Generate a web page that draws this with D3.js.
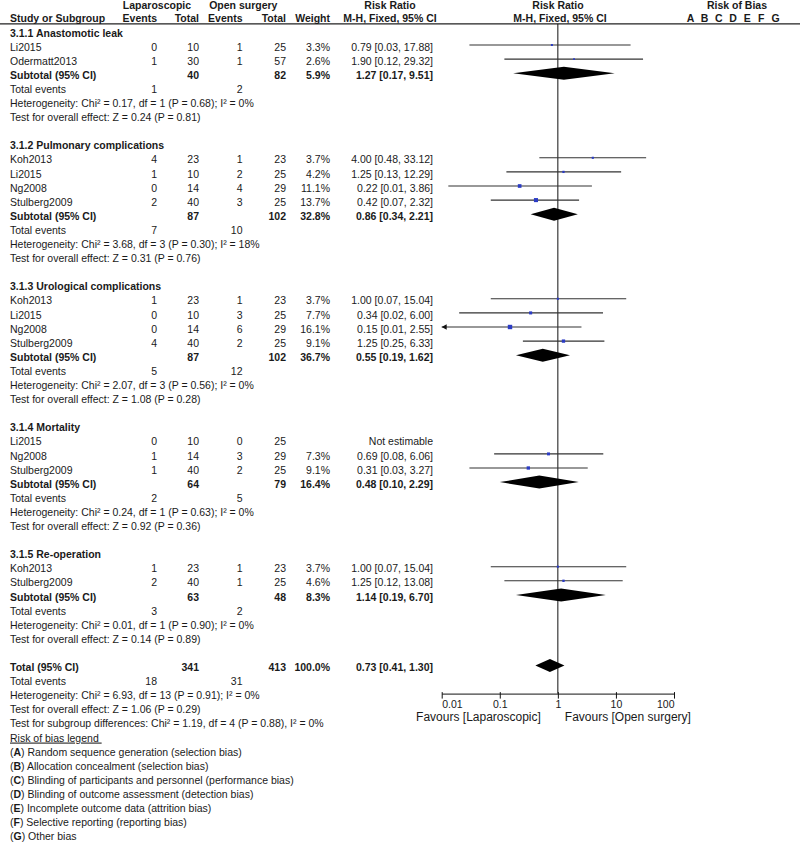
<!DOCTYPE html>
<html>
<head>
<meta charset="utf-8">
<script src="https://cdn.jsdelivr.net/npm/d3@7"></script>
<style>
    body { margin: 0; background: #fff; }
    svg { display: block; font-family: "Liberation Sans", Arial, sans-serif; font-size: 10.5px; fill: #1a1a1a; }
    .b { font-weight: bold; }
</style>
</head>
<body>
<div id="chart"></div>
<script>
const width = 800;
const height = 845;

// Subgroups
const groupNames = ['3.1.1 Anastomotic leak', '3.1.2 Pulmonary complications', '3.1.3 Urological complications', '3.1.4 Mortality', '3.1.5 Re-operation'];

// Studies (one entry per row, in drawing order)
const studyGroup = [0, 0, 1, 1, 1, 1, 2, 2, 2, 2, 3, 3, 3, 4, 4];
const studyNames = ['Li2015', 'Odermatt2013', 'Koh2013', 'Li2015', 'Ng2008', 'Stulberg2009', 'Koh2013', 'Li2015', 'Ng2008', 'Stulberg2009', 'Li2015', 'Ng2008', 'Stulberg2009', 'Koh2013', 'Stulberg2009'];
const lapEvents = [0, 1, 4, 1, 0, 2, 1, 0, 0, 4, 0, 1, 1, 1, 2];
const lapTotal = [10, 30, 23, 10, 14, 40, 23, 10, 14, 40, 10, 14, 40, 23, 40];
const openEvents = [1, 1, 1, 2, 4, 3, 1, 3, 6, 2, 0, 3, 2, 1, 1];
const openTotal = [25, 57, 23, 25, 29, 25, 23, 25, 29, 25, 25, 29, 25, 23, 25];
const studyWeight = [3.3, 2.6, 3.7, 4.2, 11.1, 13.7, 3.7, 7.7, 16.1, 9.1, null, 7.3, 9.1, 3.7, 4.6];
const studyRR = [0.79, 1.90, 4.00, 1.25, 0.22, 0.42, 1.00, 0.34, 0.15, 1.25, null, 0.69, 0.31, 1.00, 1.25];
const studyLo = [0.03, 0.12, 0.48, 0.13, 0.013, 0.07, 0.07, 0.02, 0.008, 0.25, null, 0.08, 0.03, 0.07, 0.12];
const studyHi = [17.88, 29.32, 33.12, 12.29, 3.86, 2.32, 15.04, 6.00, 2.55, 6.33, null, 6.06, 3.27, 15.04, 13.08];

// Subtotals per subgroup
const subLapTotal = [40, 87, 87, 64, 63];
const subOpenTotal = [82, 102, 102, 79, 48];
const subWeight = [5.9, 32.8, 36.7, 16.4, 8.3];
const subRR = [1.27, 0.86, 0.55, 0.48, 1.14];
const subLo = [0.17, 0.34, 0.19, 0.10, 0.19];
const subHi = [9.51, 2.21, 1.62, 2.29, 6.70];
const subLapEvents = [1, 7, 5, 2, 3];
const subOpenEvents = [2, 10, 12, 5, 2];
const hetChi = [0.17, 3.68, 2.07, 0.24, 0.01];
const hetDf = [1, 3, 3, 1, 1];
const hetP = [0.68, 0.30, 0.56, 0.63, 0.90];
const hetI2 = [0, 18, 0, 0, 0];
const effZ = [0.24, 0.31, 1.08, 0.92, 0.14];
const effP = [0.81, 0.76, 0.28, 0.36, 0.89];

// Overall
const totalLap = 341, totalOpen = 413, totalWeight = 100.0;
const totalRR = 0.73, totalLo = 0.41, totalHi = 1.30;
const totalLapEvents = 18, totalOpenEvents = 31;
const totalHet = { chi: 6.93, df: 13, p: 0.91, i2: 0 };
const totalEff = { z: 1.06, p: 0.29 };
const subgroupDiff = { chi: 1.19, df: 4, p: 0.88, i2: 0 };

const axisTicks = [0.01, 0.1, 1, 10, 100];
const biasLetters = ['A', 'B', 'C', 'D', 'E', 'F', 'G'];
const biasLabels = [
    'Random sequence generation (selection bias)',
    'Allocation concealment (selection bias)',
    'Blinding of participants and personnel (performance bias)',
    'Blinding of outcome assessment (detection bias)',
    'Incomplete outcome data (attrition bias)',
    'Selective reporting (reporting bias)',
    'Other bias',
];

const f2 = d3.format('.2f');
const fw = (w) => d3.format('.1f')(w) + '%';
const ci = (r, l, h) => `${f2(r)} [${f2(l)}, ${f2(h)}]`;

// column anchors
const col = { study: 10, lapE: 157, lapN: 199, openE: 242.5, openN: 286, weight: 330, rr: 433 };

// every line of the table sits on a fixed row grid
var y = d3.scaleLinear().domain([0, 57]).range([30.9, 834.6]);
var x = d3.scaleLog().domain([0.01, 100]).range([441.7, 674]);
var sq = d3.scaleSqrt().domain([0, 100]).range([0, 11]);
var biasX = d3.scalePoint().domain(biasLetters).range([690.5, 775.5]);

// build row list
let rows = [];
let idx = 0;
groupNames.forEach((g, gi) => {
    rows.push({ type: 'header', i: idx, text: g });
    studyNames.forEach((s, si) => {
        if (studyGroup[si] !== gi) return;
        idx += 1;
        rows.push({ type: 'study', i: idx, k: si });
    });
    rows.push({ type: 'sub', i: ++idx, g: gi });
    rows.push({ type: 'events', i: ++idx, a: subLapEvents[gi], b: subOpenEvents[gi] });
    rows.push({ type: 'note', i: ++idx, text: `Heterogeneity: Chi² = ${f2(hetChi[gi])}, df = ${hetDf[gi]} (P = ${f2(hetP[gi])}); I² = ${hetI2[gi]}%` });
    rows.push({ type: 'note', i: ++idx, text: `Test for overall effect: Z = ${f2(effZ[gi])} (P = ${f2(effP[gi])})` });
    idx += 2;
});
rows.push({ type: 'total', i: idx });
rows.push({ type: 'events', i: ++idx, a: totalLapEvents, b: totalOpenEvents });
rows.push({ type: 'note', i: ++idx, text: `Heterogeneity: Chi² = ${f2(totalHet.chi)}, df = ${totalHet.df} (P = ${f2(totalHet.p)}); I² = ${totalHet.i2}%` });
let axisRow = idx;
rows.push({ type: 'note', i: ++idx, text: `Test for overall effect: Z = ${f2(totalEff.z)} (P = ${f2(totalEff.p)})` });
rows.push({ type: 'note', i: ++idx, text: `Test for subgroup differences: Chi² = ${f2(subgroupDiff.chi)}, df = ${subgroupDiff.df} (P = ${f2(subgroupDiff.p)}), I² = ${subgroupDiff.i2}%` });
let legendRow = ++idx;

var svg = d3.select('#chart').append('svg')
    .attr('width', width)
    .attr('height', height);

function txt(xp, row, s, anchor, bold) {
    return svg.append('text')
        .attr('x', xp)
        .attr('y', y(row) + 2)
        .attr('dy', '0.35em')
        .attr('text-anchor', anchor || 'start')
        .attr('class', bold ? 'b' : null)
        .text(s);
}

// column headers
txt(157, -1.95, 'Laparoscopic', 'middle', true);
txt(243.3, -1.95, 'Open surgery', 'middle', true);
txt(390, -1.95, 'Risk Ratio', 'middle', true);
txt(558, -1.95, 'Risk Ratio', 'middle', true);
txt(737, -1.95, 'Risk of Bias', 'middle', true);
txt(col.study, -1.05, 'Study or Subgroup', 'start', true);
txt(col.lapE, -1.05, 'Events', 'end', true);
txt(col.lapN, -1.05, 'Total', 'end', true);
txt(col.openE, -1.05, 'Events', 'end', true);
txt(col.openN, -1.05, 'Total', 'end', true);
txt(col.weight, -1.05, 'Weight', 'end', true);
txt(390, -1.05, 'M-H, Fixed, 95% CI', 'middle', true);
txt(560, -1.05, 'M-H, Fixed, 95% CI', 'middle', true);
biasLetters.forEach((l) => txt(biasX(l), -1.05, l, 'middle', true));

svg.append('line')
    .attr('x1', 0).attr('x2', width)
    .attr('y1', y(-0.5)).attr('y2', y(-0.5))
    .attr('stroke', '#222').attr('stroke-width', 1.3);

// line of no effect
svg.append('line')
    .attr('x1', x(1)).attr('x2', x(1))
    .attr('y1', y(-0.5)).attr('y2', y(axisRow))
    .attr('stroke', '#111').attr('stroke-width', 1);

function diamond(row, r, l, h) {
    let cy = y(row);
    svg.append('path')
        .attr('d', `M${x(l)},${cy} L${x(r)},${cy - 6.5} L${x(h)},${cy} L${x(r)},${cy + 6.5} Z`)
        .attr('fill', '#000');
}

rows.forEach((row) => {
    if (row.type === 'header') {
        txt(col.study, row.i, row.text, 'start', true);
    } else if (row.type === 'study') {
        let k = row.k;
        txt(col.study, row.i, studyNames[k]);
        txt(col.lapE, row.i, lapEvents[k], 'end');
        txt(col.lapN, row.i, lapTotal[k], 'end');
        txt(col.openE, row.i, openEvents[k], 'end');
        txt(col.openN, row.i, openTotal[k], 'end');
        if (studyRR[k] === null) {
            txt(col.rr, row.i, 'Not estimable', 'end');
            return;
        }
        txt(col.weight, row.i, fw(studyWeight[k]), 'end');
        txt(col.rr, row.i, ci(studyRR[k], studyLo[k], studyHi[k]), 'end');

        // CI line, clipped to the axis with an arrow
        let cy = y(row.i);
        let lo = Math.max(studyLo[k], 0.01);
        let hi = Math.min(studyHi[k], 100);
        svg.append('line')
            .attr('x1', x(lo)).attr('x2', x(hi))
            .attr('y1', cy).attr('y2', cy)
            .attr('stroke', '#333').attr('stroke-width', 1.1);
        if (studyLo[k] < 0.01) {
            svg.append('path')
                .attr('d', `M${x(0.01)},${cy} l5,-2.8 l0,5.6 Z`)
                .attr('fill', '#111');
        }
        let s = sq(studyWeight[k]);
        svg.append('rect')
            .attr('x', x(studyRR[k]) - s / 2)
            .attr('y', cy - s / 2)
            .attr('width', s).attr('height', s)
            .attr('fill', '#2b3cc4');
    } else if (row.type === 'sub') {
        let g = row.g;
        txt(col.study, row.i, 'Subtotal (95% CI)', 'start', true);
        txt(col.lapN, row.i, subLapTotal[g], 'end', true);
        txt(col.openN, row.i, subOpenTotal[g], 'end', true);
        txt(col.weight, row.i, fw(subWeight[g]), 'end', true);
        txt(col.rr, row.i, ci(subRR[g], subLo[g], subHi[g]), 'end', true);
        diamond(row.i, subRR[g], subLo[g], subHi[g]);
    } else if (row.type === 'total') {
        txt(col.study, row.i, 'Total (95% CI)', 'start', true);
        txt(col.lapN, row.i, totalLap, 'end', true);
        txt(col.openN, row.i, totalOpen, 'end', true);
        txt(col.weight, row.i, fw(totalWeight), 'end', true);
        txt(col.rr, row.i, ci(totalRR, totalLo, totalHi), 'end', true);
        diamond(row.i, totalRR, totalLo, totalHi);
    } else if (row.type === 'events') {
        txt(col.study, row.i, 'Total events');
        txt(col.lapE, row.i, row.a, 'end');
        txt(col.openE, row.i, row.b, 'end');
    } else {
        txt(col.study, row.i, row.text);
    }
});

// risk ratio axis
var axisG = svg.append('g')
    .attr('transform', `translate(0, ${y(axisRow)})`)
    .call(d3.axisBottom(x)
        .tickValues(axisTicks)
        .tickFormat((d) => String(d))
        .tickSizeInner(5)
        .tickSizeOuter(0)
        .tickPadding(2));
axisG.select('.domain').attr('stroke', '#111');
axisG.selectAll('.tick line').attr('stroke', '#111').attr('y1', -1.5);
axisG.selectAll('.tick text')
    .attr('fill', '#1a1a1a')
    .style('font-size', '10.5px')
    .style('font-family', '"Liberation Sans", Arial, sans-serif')
    .attr('text-anchor', (d, i) => i === 0 ? 'start' : (i === axisTicks.length - 1 ? 'end' : 'middle'));

svg.append('text')
    .attr('x', x(1) - 17).attr('y', y(axisRow) + 23.5).attr('dy', '0.35em')
    .attr('text-anchor', 'end')
    .style('font-size', '12px')
    .text('Favours [Laparoscopic]');
svg.append('text')
    .attr('x', x(1) + 7).attr('y', y(axisRow) + 23.5).attr('dy', '0.35em')
    .style('font-size', '12px')
    .text('Favours [Open surgery]');

// risk of bias legend
txt(col.study, legendRow, 'Risk of bias legend\u00a0').style('text-decoration', 'underline');
biasLetters.forEach((l, i) => {
    let t = txt(col.study, legendRow + 1 + i, '');
    t.append('tspan').text('(');
    t.append('tspan').attr('class', 'b').text(l);
    t.append('tspan').text(') ' + biasLabels[i]);
});
</script>
</body>
</html>
